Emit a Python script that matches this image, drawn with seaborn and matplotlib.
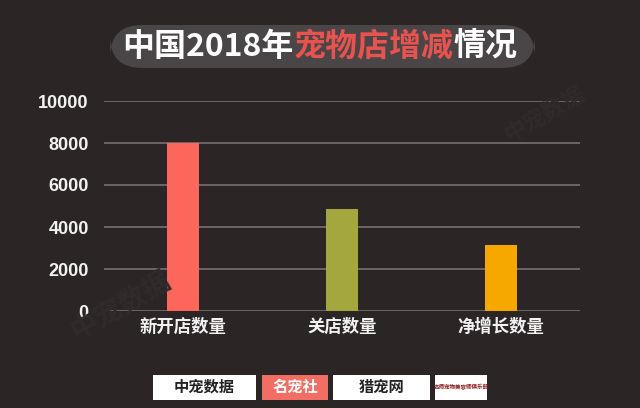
"""中国2018年宠物店增减情况 bar chart."""

import matplotlib

matplotlib.use("Agg")
import matplotlib.pyplot as plt
import pandas as pd
import seaborn as sns
from matplotlib.patches import FancyBboxPatch, Rectangle

categories = ["新开店数量", "关店数量", "净增长数量"]
values = [8000, 4850, 3150]
bar_colors = ["#fd665b", "#a4a73d", "#f6a800"]
y_ticks = [0, 2000, 4000, 6000, 8000, 10000]

BG = "#2b2526"
CJK = ["Noto Sans CJK SC", "DejaVu Sans"]

sns.set_theme(style="dark")
plt.rcParams["font.family"] = CJK

df = pd.DataFrame({"cat": categories, "val": values})

fig = plt.figure(figsize=(6.4, 4.08), dpi=100, facecolor=BG)
ax = fig.add_axes([104 / 640, 1 - 311 / 408, 476 / 640, 210 / 408])
ax.set_facecolor(BG)

sns.barplot(data=df, x="cat", y="val", hue="cat", palette=bar_colors,
            width=0.2, legend=False, ax=ax, zorder=3, saturation=1,
            edgecolor="none", linewidth=0)

ax.set_ylim(0, 10000)
ax.set_xlim(-0.5, 2.5)
ax.set_yticks(y_ticks)
ax.set_yticklabels([str(t) for t in y_ticks], fontsize=13, color="#f2f2f2",
                   family=["Liberation Sans", "DejaVu Sans"], fontweight="bold")
ax.tick_params(axis="y", length=0, pad=11)
ax.tick_params(axis="x", length=0, pad=5, labelsize=12.5, labelcolor="#f2f2f2")
for lbl in ax.get_xticklabels():
    lbl.set_fontweight("bold")
ax.yaxis.grid(True, color="#6b6667", linewidth=1.4, zorder=0)
ax.xaxis.grid(False)
ax.set_xlabel("")
ax.set_ylabel("")
for s in ax.spines.values():
    s.set_visible(False)

# watermarks
fig.text(0.19, 0.25, "中宠数据", fontsize=20, color="#312b2c", rotation=30,
         ha="center", va="center", fontweight="bold")
fig.text(0.85, 0.72, "中宠数据", fontsize=16, color="#312b2c", rotation=30,
         ha="center", va="center", fontweight="bold")

# title in rounded box
fig.add_artist(FancyBboxPatch((110 / 640, 1 - 68 / 408), 425 / 640, 43 / 408,
                              boxstyle="round,pad=0,rounding_size=0.05",
                              transform=fig.transFigure, facecolor="#4a4546",
                              edgecolor="none", mutation_aspect=640 / 408))
parts = [("中国2018年", "white"), ("宠物店增减", "#e8534f"), ("情况", "white")]
renderer = fig.canvas.get_renderer()
x = 122 / 640
ty = 1 - 47 / 408
for txt, col in parts:
    t = fig.text(x, ty, txt, color=col, fontsize=23, fontweight="bold",
                 ha="left", va="center")
    bb = t.get_window_extent(renderer)
    x += bb.width / fig.bbox.width

# logo strip
logos = [
    (153, 256, "white", "中宠数据", "#222222"),
    (262, 328, "#f26d63", "名宠社", "white"),
    (333, 430, "white", "猎宠网", "#222222"),
    (435, 487, "white", "名师宠物美容师俱乐部", "#8a1a1a"),
]
for x0, x1, fc, label, tc in logos:
    fig.add_artist(Rectangle((x0 / 640, 1 - 400 / 408), (x1 - x0) / 640, 25 / 408,
                             transform=fig.transFigure, facecolor=fc,
                             edgecolor="none"))
    fs = 11 if len(label) <= 4 else 4
    fig.text((x0 + x1) / 2 / 640, 1 - 387 / 408, label, fontsize=fs, color=tc,
             ha="center", va="center", fontweight="bold")

fig.savefig("out.png", dpi=100, facecolor=BG)
